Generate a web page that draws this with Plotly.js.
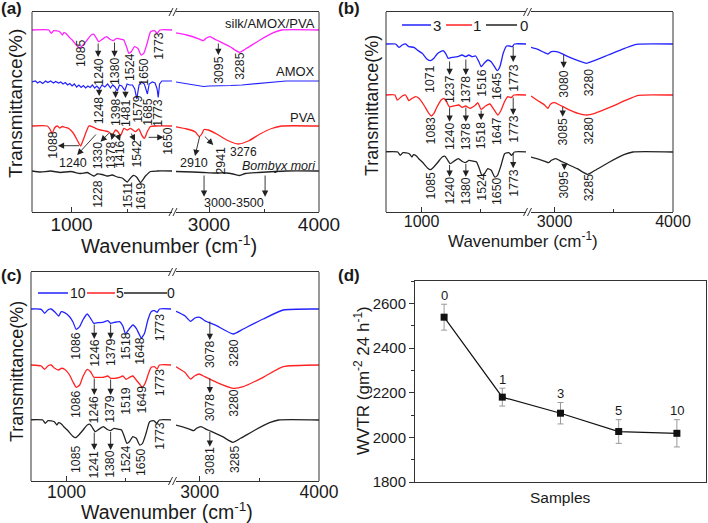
<!DOCTYPE html>
<html><head><meta charset="utf-8">
<script src="https://cdn.plot.ly/plotly-3.0.1.min.js"></script>
<style>html,body{margin:0;padding:0;background:#fff;}#chart{width:708px;height:523px;}</style>
</head><body><div id="chart"></div>
<script>
// ================= DATA =================
// FTIR spectra: wavenumber (cm-1) and relative transmittance change (baseline = 0)
// silk/AMOX/PVA film, 0 (same sample appears in a, b, c)
const silk0_wn = [650,799,820,843,896,918,932,956,976,1006,1050,1074,1103,1139,1174,1198,1221,1242,1272,1310,1340,1369,1399,1440,1463,1487,1508,1529,1558,1587,1617,1640,1670,1700,1735,1759,1782,1890,
  2691,2797,2918,2948,2973,3009,3055,3100,3191,3276,3342,3464,3585,3661,4000];
const silk0_dT = [0,0,-3.3,-0.7,-1.7,-5,-2.7,-4,-6.7,-10,-16,-17.7,-15,-10,-5,-4.3,-8.3,-11.7,-9.3,-6.7,-9.3,-10.7,-8.3,-9.3,-10,-16.7,-23.3,-21.7,-16.7,-18.3,-25,-23.3,-13.3,-1.7,-0.7,-3.3,0,0,
  -2.7,-5,-9.3,-10.7,-8.3,-6.7,-9.3,-11.7,-16.7,-22.3,-18.3,-10,-2.7,0,0];
// AMOX
const amox_wn = [650,680,700,720,745,770,790,815,840,860,885,905,925,945,965,985,1005,1025,1045,1065,1085,1105,1125,1145,1165,1185,1205,1225,1248,1270,1295,1320,1345,1365,1385,1405,1425,1445,1472,1492,1515,1540,1560,1578,1598,1620,1645,1660,1672,1688,1715,1740,1758,1768,1780,1800,1890,
  2700,2800,2900,2950,3000,3100,3200,3300,3400,3500,3600,3700,4000];
const amox_dT = [-1,0,-2,-0.5,-2.5,0,-1.5,0,-2,-0.5,-2,-1,-3,-1.5,-4,-2.5,-5,-3,-6,-4,-6.5,-4.5,-7,-5,-6.5,-4,-7,-5,-8,-4,-6,-3,-7,-4,-6,-10,-4,-5,-9.5,-3,-4,-4,-8,-18,-4,-1,-3,-8,-13,-3,-1,-2,-8,-16.5,-3,0,0,
  -1,-3,-4.5,-5.5,-5,-5,-4.5,-4,-3,-2,-0.5,0,0];
// PVA
const pva_wn = [650,785,808,829,849,873,896,918,947,976,1015,1050,1080,1103,1133,1153,1168,1213,1257,1301,1331,1360,1390,1413,1434,1464,1493,1523,1567,1596,1626,1647,1670,1700,1744,1890,
  2691,2797,2873,2912,2934,2955,2994,3070,3161,3267,3358,3464,3570,3661,4000];
const pva_dT = [0,0,-3,-7.5,-2,0,-2,-0.5,-1.5,-2.5,-7,-14,-20,-14,-5,0,0,-2.3,-4,-5,-6,-9,-4,-6,-9.7,-2.3,-4,-2.3,-5.7,-3,-10,-12.3,-6,-0.5,0,0,
  -0.7,-3,-5.7,-10.7,-8,-3.5,-4,-8,-14,-18,-15,-8,-2.5,0,0];
// Bombyx mori silk
const silk_wn = [650,725,814,903,991,1080,1139,1198,1228,1272,1316,1360,1405,1449,1493,1523,1546,1576,1611,1655,1700,1759,1890,
  2700,2850,2950,3050,3150,3220,3280,3330,3450,3600,3700,4000];
const silk_dT = [0,-1,0,-1.5,-0.5,-2.5,-1.5,-5,-3,-3.5,-5,-4,-6,-7,-11,-7,-4.5,-6,-11.5,-5,-0.5,0,0,
  -0.5,-1,-1.5,-2,-2,-3,-4.5,-2.5,-1.5,-0.5,0,0];
// sample 3
const s3_wn = [700,781,809,837,865,893,935,963,1005,1047,1076,1104,1131,1160,1182,1202,1224,1258,1300,1342,1371,1398,1426,1455,1483,1502,1531,1558,1586,1623,1637,1660,1688,1716,1744,1763,1783,1880,
  2800,2859,2915,2943,2972,3014,3056,3113,3198,3268,3311,3452,3593,3692,4000];
const s3_dT = [0,0,-3.3,-1,0,-2.7,-3.3,-6,-9.3,-15.3,-16.7,-14.3,-10,-7.7,-6.7,-9.3,-14.3,-13.3,-12.7,-11,-12.7,-11,-12.7,-12,-17.7,-22.7,-18.7,-16,-17.7,-24.3,-26.7,-22.7,-9.3,-2,-2,-2.7,0,0,
  -3.3,-5.3,-8.7,-10,-7.7,-7.7,-9.3,-12.7,-16.7,-19.3,-17.7,-11,-4.3,-0.3,0];
// sample 1
const s1_wn = [700,775,795,837,865,893,921,949,977,1019,1061,1081,1104,1131,1165,1188,1210,1233,1272,1314,1342,1371,1407,1455,1474,1502,1539,1575,1609,1643,1671,1699,1727,1755,1778,1880,
  2800,2859,2915,2943,2966,3000,3042,3113,3198,3268,3339,3480,3593,3706,4000];
const s1_dT = [0,0,-5,-1,0,-5.7,-3.3,-1.7,-3.3,-10,-18.3,-21,-18.3,-11.7,-5,-3.3,-6.7,-11.7,-11,-10,-12.3,-11,-13.3,-10,-7.7,-14.3,-11,-9,-14.3,-20,-15,-6.7,-1.7,-2.7,0,0,
  -1,-5.7,-10,-13.3,-9,-7.7,-10,-14.3,-18.3,-20,-18.3,-11.7,-5.7,-0.3,0];
// sample 10
const s10_wn = [700,786,815,842,870,899,933,955,983,1025,1053,1081,1110,1137,1174,1202,1230,1264,1306,1348,1371,1404,1447,1474,1497,1525,1559,1587,1615,1629,1657,1685,1713,1741,1763,1783,1880,
  2800,2874,2922,2958,3000,3042,3140,3280,3364,3532,3700,4000];
const s10_dT = [0,-0.3,-4.3,-1,0,-2.7,-7,-2.7,-3.7,-7.7,-12.7,-20.3,-17.7,-11,-5,-9.3,-14.3,-13.7,-13.3,-11.7,-14.3,-13.3,-12.7,-17,-25,-20.3,-16,-19.3,-26,-29.3,-24.3,-11,-2.7,-1.7,-3.3,0,0,
  -2.3,-6.7,-12.3,-9,-8.3,-11.7,-16.7,-25,-20,-10,-1,0];
// sample 5
const s5_wn = [700,786,815,842,870,899,933,955,983,1025,1053,1081,1110,1137,1174,1202,1230,1264,1306,1348,1371,1404,1447,1474,1502,1531,1559,1587,1615,1637,1662,1691,1713,1741,1763,1783,1880,
  2800,2874,2922,2958,2994,3042,3140,3280,3364,3532,3700,4000];
const s5_dT = [0,-1,-4.3,-1,0,-3.3,-5,-3.3,-4.3,-10,-16.7,-22.3,-20,-11.7,-4.3,-6.7,-12.3,-12.3,-12.3,-11,-13.3,-13.3,-12.3,-11,-14.3,-12.3,-11,-15,-19,-22.3,-18.3,-8.3,-2.3,-1.7,-4,0,0,
  -1.7,-7.3,-14,-10.7,-9,-11.7,-17.3,-23.3,-21.7,-12.3,-1.7,0];
// WVTR (panel d)
const wvtr_samples = ['0','1','3','5','10'];
const wvtr_values = [2538,2180,2108,2026,2018];
const wvtr_err = [58,40,48,53,61];

// ================= LAYOUT HELPERS =================
const W = 708, H = 523;
const FONT = 'Liberation Sans, Arial, Helvetica, sans-serif';
const TXT = '#1a1a1a';
const PX = v => v / W;
const PY = v => 1 - v / H;
const BLUE = '#2222ff', RED = '#ff2222', MAG = '#ff22ff', BLK = '#222222';
const LAB = 12.3;

const traces = [];
function addSpec(wn, dT, off, color, xL, xR, ya, smooth) {
  const lx = [], ly = [], rx = [], ry = [];
  wn.forEach((w, i) => {
    if (w < 2300) { lx.push(w); ly.push(off + dT[i]); } else { rx.push(w); ry.push(off + dT[i]); }
  });
  const line = smooth ? {color, width: 1.3, shape: 'spline', smoothing: 0.5} : {color, width: 1.2};
  traces.push({type: 'scatter', mode: 'lines', x: lx, y: ly, xaxis: xL, yaxis: ya, line, hoverinfo: 'skip', showlegend: false});
  traces.push({type: 'scatter', mode: 'lines', x: rx, y: ry, xaxis: xR, yaxis: ya, line, hoverinfo: 'skip', showlegend: false});
}
// panel a
addSpec(silk0_wn, silk0_dT, 182, MAG, 'x', 'x2', 'y', true);
addSpec(amox_wn, amox_dT, 131, BLUE, 'x', 'x2', 'y', false);
addSpec(pva_wn, pva_dT, 86, RED, 'x', 'x2', 'y', true);
addSpec(silk_wn, silk_dT, 41, BLK, 'x', 'x2', 'y', true);
// panel b
addSpec(s3_wn, s3_dT, 168, BLUE, 'x3', 'x4', 'y2', true);
addSpec(s1_wn, s1_dT, 117, RED, 'x3', 'x4', 'y2', true);
addSpec(silk0_wn, silk0_dT, 60, BLK, 'x3', 'x4', 'y2', true);
// panel c
addSpec(s10_wn, s10_dT, 172, BLUE, 'x5', 'x6', 'y3', true);
addSpec(s5_wn, s5_dT, 116, RED, 'x5', 'x6', 'y3', true);
addSpec(silk0_wn, silk0_dT, 61, BLK, 'x5', 'x6', 'y3', true);
// panel d
traces.push({
  type: 'scatter', mode: 'lines+markers', x: wvtr_samples.map((s, i) => i + 1), y: wvtr_values,
  xaxis: 'x7', yaxis: 'y4', line: {color: '#111', width: 1.2},
  marker: {symbol: 'square', size: 7, color: '#111'},
  error_y: {type: 'data', array: wvtr_err, visible: true, color: '#999', thickness: 1, width: 3},
  hoverinfo: 'skip', showlegend: false
});

function specX(dom, range, tv, tt, fs, anchor) {
  return {domain: [PX(dom[0]), PX(dom[1])], range, anchor, showline: true, mirror: true, linecolor: '#333', linewidth: 1,
    ticks: 'inside', ticklen: 5, tickwidth: 1, tickcolor: '#333', tickmode: 'array', tickvals: tv, ticktext: tt,
    ticklabelstandoff: -5,
    minor: {ticks: 'inside', ticklen: 3, dtick: 500, tick0: 0, tickcolor: '#333', tickwidth: 1},
    showgrid: false, zeroline: false, tickfont: {family: FONT, size: fs, color: TXT}, fixedrange: true};
}
function specY(dom, range, anchor) {
  return {domain: [PY(dom[1]), PY(dom[0])], range, anchor, showline: false, showticklabels: false, ticks: '',
    showgrid: false, zeroline: false, fixedrange: true};
}

const shapes = [];
function frameV(xpx, top, bot) {
  shapes.push({type: 'line', xref: 'paper', yref: 'paper', x0: PX(xpx), x1: PX(xpx), y0: PY(bot), y1: PY(top), line: {color: '#333', width: 1}});
}
function brk(gx, y) {
  [-3, 1].forEach(d => shapes.push({type: 'line', xref: 'paper', yref: 'paper',
    x0: PX(gx + d - 2), y0: PY(y + 4), x1: PX(gx + d + 2), y1: PY(y - 4), line: {color: '#333', width: 1}}));
}
function legLine(x0, x1, y, color) {
  shapes.push({type: 'line', xref: 'paper', yref: 'paper', x0: PX(x0), x1: PX(x1), y0: PY(y), y1: PY(y), line: {color, width: 1.5}});
}
// frames
frameV(32, 12, 212); frameV(319, 12, 212); brk(174, 12); brk(174, 212);
frameV(386, 12, 212); frameV(673, 12, 212); brk(528.5, 12); brk(528.5, 212);
frameV(31, 272, 481); frameV(319, 272, 481); brk(173.5, 272); brk(173.5, 481);
// legends
legLine(402, 431, 25, BLUE); legLine(446, 472, 25, RED); legLine(486, 517, 25, BLK);
legLine(38, 68, 293, BLUE); legLine(87, 115, 293, RED); legLine(124, 167, 293, BLK);

const ann = [];
function vlab(xa, ya, text, x, y) {
  ann.push({xref: xa, yref: ya, x, y, text, textangle: -90, showarrow: false, xanchor: 'center', yanchor: 'middle',
    borderpad: 0, borderwidth: 0, font: {family: FONT, size: LAB, color: TXT}});
}
function hlab(xa, ya, text, x, y, xanchor, fs) {
  ann.push({xref: xa, yref: ya, x, y, text, showarrow: false, xanchor: xanchor || 'center', yanchor: 'middle',
    borderpad: 0, borderwidth: 0, font: {family: FONT, size: fs || 12.5, color: TXT}});
}
function arr(xa, ya, x0, y0, x1, y1) {
  ann.push({xref: xa, yref: ya, axref: xa, ayref: ya, x: x1, y: y1, ax: x0, ay: y0, text: '', showarrow: true,
    arrowhead: 2, arrowsize: 1.4, arrowwidth: 0.9, arrowcolor: '#222', standoff: 0, startstandoff: 0});
}
function ptxt(text, x, y, fs, angle, bold) {
  ann.push({xref: 'paper', yref: 'paper', x: PX(x), y: PY(y), text: bold ? '<b>' + text + '</b>' : text, showarrow: false,
    xanchor: 'center', yanchor: 'middle', textangle: angle || 0, borderpad: 0, borderwidth: 0,
    font: {family: FONT, size: fs, color: TXT}});
}

// ---- panel a labels ----
vlab('x', 'y', '1085', 1080, 158.5);
arr('x', 'y', 1236, 170, 1236, 155); vlab('x', 'y', '1240', 1236, 140.5);
arr('x', 'y', 1381, 171, 1381, 155); vlab('x', 'y', '1380', 1381, 140.5);
vlab('x', 'y', '1524', 1514, 144.5);
vlab('x', 'y', '1650', 1635, 140.5);
vlab('x', 'y', '1773', 1768, 166.5);
arr('x2', 'y', 3085, 170, 3085, 157); vlab('x2', 'y', '3095', 3085, 142.5);
vlab('x2', 'y', '3285', 3276, 146.5);
hlab('x2', 'y', 'silk/AMOX/PVA', 3965, 189, 'right', 13);
arr('x', 'y', 1245, 124, 1245, 116); vlab('x', 'y', '1248', 1245, 102);
arr('x', 'y', 1390, 123, 1390, 114); vlab('x', 'y', '1398', 1390, 99.5);
arr('x', 'y', 1478, 122, 1478, 114); vlab('x', 'y', '1481', 1478, 99.5);
vlab('x', 'y', '1579', 1582, 103.5);
vlab('x', 'y', '1685', 1670, 100.5);
vlab('x', 'y', '1773', 1759, 99.5);
hlab('x2', 'y', 'AMOX', 3965, 141, 'right', 13);
vlab('x', 'y', '1088', 829, 67.5); arr('x', 'y', 1080, 66.3, 879, 66.3);
hlab('x', 'y', '1240', 1013, 49); arr('x', 'y', 1228, 79, 1050, 57);
vlab('x', 'y', '1330', 1233, 56.5); arr('x', 'y', 1345, 80.3, 1257, 70.3);
vlab('x', 'y', '1378', 1345, 57.5); arr('x', 'y', 1372, 80, 1354, 72);
vlab('x', 'y', '1416', 1425, 57.5); arr('x', 'y', 1407, 78, 1430, 71);
vlab('x', 'y', '1542', 1572, 58.5); arr('x', 'y', 1523, 80, 1562, 71);
vlab('x', 'y', '1650', 1848, 71.5); arr('x', 'y', 1670, 74.7, 1815, 74.7);
hlab('x2', 'y', '2910', 2864, 49); arr('x2', 'y', 2918, 77, 2873, 56);
vlab('x2', 'y', '2941', 3100, 51.5); arr('x2', 'y', 2948, 77, 3039, 67);
hlab('x2', 'y', '3276', 3318, 60.5, 'center', 12);
hlab('x2', 'y', 'PVA', 3965, 95, 'right', 13);
hlab('x2', 'y', '<i>Bombyx mori</i>', 3972, 46.5, 'right', 12.5);
vlab('x', 'y', '1228', 1228, 18.5);
vlab('x', 'y', '1511', 1499, 17.5);
vlab('x', 'y', '1619', 1611, 15.5);
hlab('x2', 'y', '3000-3500', 3230, 8.7);
arr('x2', 'y', 2955, 38, 2955, 15.3); arr('x2', 'y', 3510, 38, 3510, 15.3);

// ---- panel b labels ----
vlab('x3', 'y2', '1071', 1070, 133);
arr('x3', 'y2', 1236, 152, 1236, 137); vlab('x3', 'y2', '1237', 1236, 122.5);
arr('x3', 'y2', 1373, 154, 1373, 137); vlab('x3', 'y2', '1378', 1373, 122.5);
vlab('x3', 'y2', '1516', 1502, 129.5);
vlab('x3', 'y2', '1645', 1637, 126.2);
arr('x3', 'y2', 1772, 167, 1772, 150); vlab('x3', 'y2', '1773', 1772, 134.5);
arr('x4', 'y2', 3076, 159, 3076, 144); vlab('x4', 'y2', '3080', 3076, 128);
vlab('x4', 'y2', '3280', 3288, 129.5);
vlab('x3', 'y2', '1083', 1076, 81.2);
arr('x3', 'y2', 1236, 106, 1236, 90.3); vlab('x3', 'y2', '1240', 1236, 75.5);
arr('x3', 'y2', 1373, 106, 1373, 90.3); vlab('x3', 'y2', '1378', 1373, 75.5);
arr('x3', 'y2', 1502, 103, 1502, 92); vlab('x3', 'y2', '1518', 1502, 76.8);
vlab('x3', 'y2', '1647', 1637, 81.2);
arr('x3', 'y2', 1772, 116, 1772, 97); vlab('x3', 'y2', '1773', 1772, 83.5);
arr('x4', 'y2', 3068, 106.5, 3068, 95.3); vlab('x4', 'y2', '3085', 3068, 80.2);
vlab('x4', 'y2', '3280', 3288, 81.2);
vlab('x3', 'y2', '1085', 1076, 26.2);
arr('x3', 'y2', 1236, 48.5, 1236, 35.3); vlab('x3', 'y2', '1240', 1236, 21.2);
arr('x3', 'y2', 1373, 49.5, 1373, 35.3); vlab('x3', 'y2', '1380', 1373, 21.2);
vlab('x3', 'y2', '1524', 1502, 25.5);
vlab('x3', 'y2', '1650', 1637, 21.2);
arr('x3', 'y2', 1772, 60, 1772, 43.7); vlab('x3', 'y2', '1773', 1772, 29.5);
arr('x4', 'y2', 3082, 49.5, 3082, 42); vlab('x4', 'y2', '3095', 3082, 27.8);
vlab('x4', 'y2', '3285', 3288, 24.5);

// ---- panel c labels ----
vlab('x5', 'y3', '1086', 1078, 135.2);
arr('x5', 'y3', 1233, 158, 1233, 142); vlab('x5', 'y3', '1246', 1233, 128.5);
arr('x5', 'y3', 1371, 158, 1371, 142); vlab('x5', 'y3', '1379', 1371, 128.5);
vlab('x5', 'y3', '1518', 1500, 135.2);
vlab('x5', 'y3', '1648', 1618, 130.2);
vlab('x5', 'y3', '1773', 1786, 153.5);
arr('x6', 'y3', 3084, 161, 3084, 141); vlab('x6', 'y3', '3078', 3084, 126.8);
vlab('x6', 'y3', '3280', 3280, 128.5);
vlab('x5', 'y3', '1086', 1078, 76.8);
arr('x5', 'y3', 1233, 104, 1233, 86); vlab('x5', 'y3', '1246', 1233, 71.8);
arr('x5', 'y3', 1371, 103, 1371, 86); vlab('x5', 'y3', '1379', 1371, 71.8);
vlab('x5', 'y3', '1519', 1500, 80.2);
vlab('x5', 'y3', '1649', 1632, 81.2);
vlab('x5', 'y3', '1773', 1786, 98.5);
arr('x6', 'y3', 3084, 104, 3084, 87.7); vlab('x6', 'y3', '3078', 3084, 73.5);
vlab('x6', 'y3', '3280', 3280, 78.5);
vlab('x5', 'y3', '1085', 1078, 21.8);
arr('x5', 'y3', 1233, 50, 1233, 31); vlab('x5', 'y3', '1241', 1233, 16.8);
arr('x5', 'y3', 1371, 50.5, 1371, 31); vlab('x5', 'y3', '1380', 1371, 16.8);
vlab('x5', 'y3', '1524', 1500, 21.8);
vlab('x5', 'y3', '1650', 1623, 18.5);
vlab('x5', 'y3', '1773', 1786, 45.2);
arr('x6', 'y3', 3084, 50.5, 3084, 34.3); vlab('x6', 'y3', '3081', 3084, 20.2);
vlab('x6', 'y3', '3285', 3294, 21.8);

// ---- panel d labels ----
wvtr_samples.forEach((s, i) => {
  ann.push({xref: 'x7', yref: 'y4', x: i + 1, y: wvtr_values[i] + wvtr_err[i], yshift: 9, text: s, showarrow: false,
    xanchor: 'center', yanchor: 'middle', borderpad: 0, borderwidth: 0, font: {family: FONT, size: 13, color: TXT}});
});

// ---- legends ----
ptxt('3', 437, 25, 15); ptxt('1', 477, 25, 15); ptxt('0', 524, 25, 15);
ptxt('10', 77.5, 293, 14); ptxt('5', 119.5, 293, 14); ptxt('0', 171, 293, 14);

// ---- titles & panel letters ----
ptxt('(a)', 11, 9, 17, 0, true); ptxt('(b)', 349, 9, 17, 0, true);
ptxt('(c)', 11, 275, 17, 0, true); ptxt('(d)', 349, 275, 17, 0, true);
ptxt('Wavenumber (cm<sup>-1</sup>)', 169, 244, 20);
ptxt('Wavenumber (cm<sup>-1</sup>)', 523, 240, 17);
ptxt('Wavenumber (cm<sup>-1</sup>)', 167, 511, 19.5);
ptxt('Transmittance(%)', 15, 104, 19, -90);
ptxt('Transmittance(%)', 372, 106, 18, -90);
ptxt('Transmittance(%)', 17, 372, 18, -90);
ptxt('WVTR (gm<sup>-2</sup> 24 h<sup>-1</sup>)', 362, 381, 17, -90);
ptxt('Samples', 560, 497, 15.5);

const layout = {
  width: W, height: H, margin: {l: 0, r: 0, t: 0, b: 0}, paper_bgcolor: '#fff', plot_bgcolor: 'rgba(0,0,0,0)',
  showlegend: false, font: {family: FONT, color: TXT},
  xaxis: specX([32, 172], [650, 1890], [1000], ['1000'], 19, 'y'),
  xaxis2: specX([176, 319], [2700, 4000], [3000, 4000], ['3000', '4000'], 19, 'y'),
  yaxis: specY([12, 212], [0, 200], 'x'),
  xaxis3: specX([386, 526], [700, 1880], [1000], ['1000'], 16, 'y2'),
  xaxis4: specX([531, 673], [2800, 4000], [3000, 4000], ['3000', '4000'], 16, 'y2'),
  yaxis2: specY([12, 212], [0, 200], 'x3'),
  xaxis5: specX([31, 171], [700, 1880], [1000], ['1000'], 17.5, 'y3'),
  xaxis6: specX([176, 319], [2800, 4000], [3000, 4000], ['3000', '4000'], 17.5, 'y3'),
  yaxis3: specY([272, 481], [0, 209], 'x5'),
  xaxis7: {domain: [PX(415), PX(706)], range: [0.5, 5.5], anchor: 'y4', showline: true, mirror: true, linecolor: '#333',
    linewidth: 1, ticks: '', showticklabels: false, showgrid: false, zeroline: false, fixedrange: true},
  yaxis4: {domain: [PY(482), PY(281)], range: [1800, 2700], anchor: 'x7', showline: true, mirror: true, linecolor: '#333',
    linewidth: 1, ticks: 'outside', ticklen: 5, tickcolor: '#333', tickmode: 'array', tickvals: [1800, 2000, 2200, 2400, 2600],
    minor: {ticks: 'outside', ticklen: 3, dtick: 100, tick0: 0, tickcolor: '#333'},
    showgrid: false, zeroline: false, tickfont: {family: FONT, size: 15, color: TXT}, fixedrange: true},
  shapes, annotations: ann
};
Plotly.newPlot('chart', traces, layout, {staticPlot: true, displayModeBar: false});
</script></body></html>
